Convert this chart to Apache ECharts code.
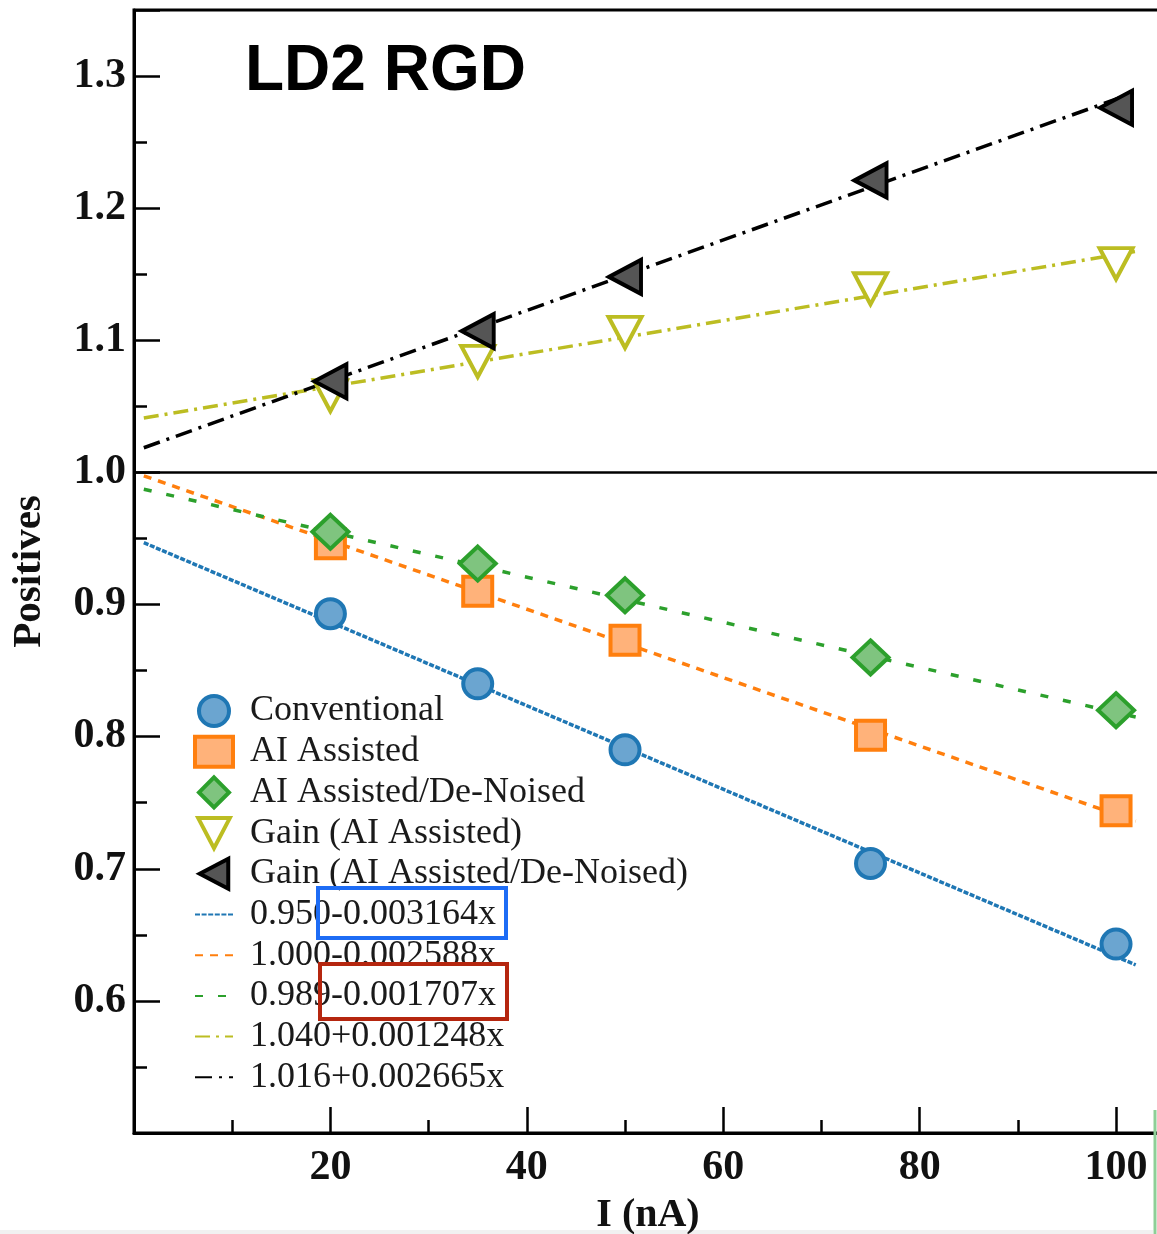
<!DOCTYPE html>
<html>
<head>
<meta charset="utf-8">
<script src="https://cdn.jsdelivr.net/npm/echarts@6/dist/echarts.min.js"></script>
<style>
  html, body { margin: 0; padding: 0; background: #fff; overflow: hidden; }
  #chart { width: 1162px; height: 1234px; }
</style>
</head>
<body>
<div id="chart"></div>
<script>
// Beam current (nA)
const currents = [20, 35, 50, 75, 100];

// Positive rates per method
const conventional = [0.893, 0.840, 0.790, 0.704, 0.643];
const aiAssisted   = [0.946, 0.910, 0.873, 0.801, 0.744];
const aiDenoised   = [0.955, 0.931, 0.907, 0.860, 0.820];

// Gains relative to conventional
const gainAi       = [1.058, 1.084, 1.106, 1.139, 1.158];
const gainDenoised = [1.069, 1.107, 1.148, 1.221, 1.276];

// Linear fits: intercept + slope * x
const fitIntercepts = [0.950, 1.000, 0.989, 1.040, 1.016];
const fitSlopes     = [-0.003164, -0.002588, -0.001707, 0.001248, 0.002665];
const fitRange      = [1, 102];

const pointNames = ['Conventional', 'AI Assisted', 'AI Assisted/De-Noised',
                    'Gain (AI Assisted)', 'Gain (AI Assisted/De-Noised)'];
const xTickLabels = [20, 40, 60, 80, 100];
const yTickLabels = [0.6, 0.7, 0.8, 0.9, 1.0, 1.1, 1.2, 1.3];

const pointSets = [conventional, aiAssisted, aiDenoised, gainAi, gainDenoised];

const pointStyles = [
  { symbol: 'circle',   size: 29, rotate: 0,   fill: '#6ba5d0', edge: '#1f77b4', icon: 'circle' },
  { symbol: 'rect',     size: 29, rotate: 0,   fill: '#ffb27a', edge: '#ff7f0e', icon: 'rect' },
  { symbol: 'diamond',  size: [36, 34], rotate: 0, fill: '#7fc47f', edge: '#2ca02c',
    icon: 'path://M10,0 L20,10 L10,20 L0,10 Z' },
  { symbol: 'triangle', size: [33, 31], rotate: 180, fill: '#ffffff', edge: '#bcbd22',
    icon: 'path://M0,0 L20,0 L10,19 Z' },
  { symbol: 'triangle', size: [34, 32], rotate: 90,  fill: '#555555', edge: '#000000',
    icon: 'path://M19,0 L19,20 L0,10 Z' }
];

const fitStyles = [
  { color: '#1f77b4', dash: [5, 1.6] },
  { color: '#ff7f0e', dash: [8, 7] },
  { color: '#2ca02c', dash: [8, 15] },
  { color: '#bcbd22', dash: [15, 6, 3, 6] },
  { color: '#000000', dash: [17, 7, 3, 7] }
];

function fitLabel(a, b) {
  return a.toFixed(3) + (b < 0 ? '-' : '+') + Math.abs(b).toFixed(6) + 'x';
}
const fitNames = fitIntercepts.map((a, i) => fitLabel(a, fitSlopes[i]));

const serif = '"Liberation Serif", "Times New Roman", serif';

const scatterSeries = pointSets.map((vals, i) => ({
  name: pointNames[i],
  type: 'scatter',
  data: currents.map((x, j) => [x, vals[j]]),
  symbol: pointStyles[i].symbol,
  symbolSize: pointStyles[i].size,
  symbolRotate: pointStyles[i].rotate,
  itemStyle: {
    color: pointStyles[i].fill,
    borderColor: pointStyles[i].edge,
    borderWidth: 4,
    opacity: 1
  },
  z: 5 + i,
  silent: true
}));

const fitSeries = fitIntercepts.map((a, i) => ({
  name: fitNames[i],
  type: 'line',
  data: fitRange.map(x => [x, a + fitSlopes[i] * x]),
  symbol: 'none',
  showSymbol: false,
  lineStyle: { color: fitStyles[i].color, width: 3.5, type: fitStyles[i].dash, cap: 'butt' },
  itemStyle: { color: fitStyles[i].color },
  z: 3,
  silent: true
}));

// Reference line at unity
fitSeries[0].markLine = {
  silent: true,
  symbol: ['none', 'none'],
  label: { show: false },
  lineStyle: { color: '#000', width: 2.5, type: 'solid' },
  data: [{ yAxis: 1.0 }]
};

const chart = echarts.init(document.getElementById('chart'), null, { renderer: 'canvas' });

const tickFont = { fontFamily: serif, fontWeight: 'bold', fontSize: 42, color: '#111' };

const legendItems = pointNames.map((n, i) => ({
  name: n,
  icon: pointStyles[i].icon,
  itemStyle: { color: pointStyles[i].fill, borderColor: pointStyles[i].edge, borderWidth: 4 }
})).concat(fitNames.map(n => ({ name: n, itemStyle: { opacity: 0 } })));

chart.setOption({
  animation: false,
  backgroundColor: '#ffffff',
  grid: {
    left: 134, right: 0, top: 10, bottom: 101,
    outerBoundsMode: 'none',
    containLabel: false,
    show: true, borderColor: '#000', borderWidth: 3
  },
  xAxis: [
    {
      type: 'value', min: 0, max: 104.68, interval: 20,
      position: 'bottom',
      axisLine: { show: true, lineStyle: { color: '#000', width: 3 } },
      axisTick: { show: true, inside: true, length: 26, lineStyle: { color: '#000', width: 2.5 } },
      axisLabel: Object.assign({
        margin: 14,
        formatter: v => xTickLabels.indexOf(Math.round(v)) >= 0 && Math.abs(v - Math.round(v)) < 1e-6 ? String(Math.round(v)) : ''
      }, tickFont),
      splitLine: { show: false },
      name: 'I (nA)',
      nameLocation: 'middle',
      nameGap: 63,
      nameTextStyle: { fontFamily: serif, fontWeight: 'bold', fontSize: 40, color: '#111' }
    },
    {
      type: 'value', min: 0, max: 104.68, interval: 10,
      position: 'bottom', offset: 0,
      axisLine: { show: false },
      axisTick: { show: true, inside: true, length: 13, lineStyle: { color: '#000', width: 2.5 } },
      axisLabel: { show: false },
      splitLine: { show: false }
    }
  ],
  yAxis: [
    {
      type: 'value', min: 0.5, max: 1.35, interval: 0.1,
      position: 'left',
      axisLine: { show: true, lineStyle: { color: '#000', width: 3 } },
      axisTick: { show: true, inside: true, length: 26, lineStyle: { color: '#000', width: 2.5 } },
      axisLabel: Object.assign({
        margin: 8,
        formatter: v => yTickLabels.some(t => Math.abs(t - v) < 1e-6) ? v.toFixed(1) : ''
      }, tickFont),
      splitLine: { show: false },
      name: 'Positives',
      nameLocation: 'middle',
      nameRotate: 90,
      nameGap: 84,
      nameTextStyle: { fontFamily: serif, fontWeight: 'bold', fontSize: 41, color: '#111' }
    },
    {
      type: 'value', min: 0.5, max: 1.35, interval: 0.05,
      position: 'left', offset: 0,
      axisLine: { show: false },
      axisTick: { show: true, inside: true, length: 13, lineStyle: { color: '#000', width: 2.5 } },
      axisLabel: { show: false },
      splitLine: { show: false }
    }
  ],
  legend: {
    orient: 'vertical',
    left: 188,
    top: 688,
    padding: 5,
    itemWidth: 38,
    itemHeight: 30,
    itemGap: 4.7,
    selectedMode: false,
    textStyle: { fontFamily: serif, fontSize: 36, color: '#1a1a1a', padding: [0, 0, 0, 12] },
    data: legendItems
  },
  series: fitSeries.concat(scatterSeries),
  graphic: [
    {
      type: 'rect', silent: true, z: -10,
      shape: { x: 0, y: 1230, width: 1153, height: 4 },
      style: { fill: '#f1f1f1' }
    },
    {
      type: 'text', left: 245, top: 40, silent: true,
      style: { text: 'LD2 RGD', font: 'bold 64px "Liberation Sans", Arial, sans-serif', fill: '#000' }
    },
    {
      type: 'rect', silent: true, z: 100,
      shape: { x: 318, y: 888, width: 188, height: 50 },
      style: { fill: 'none', stroke: '#1d6cf5', lineWidth: 4 }
    },
    {
      type: 'rect', silent: true, z: 100,
      shape: { x: 320, y: 964, width: 187, height: 55 },
      style: { fill: 'none', stroke: '#b5260f', lineWidth: 4 }
    },
    {
      type: 'line', silent: true, z: 100,
      shape: { x1: 1155, y1: 1110, x2: 1155, y2: 1234 },
      style: { stroke: '#8ecf97', lineWidth: 3 }
    }
  ]
});
</script>
</body>
</html>
